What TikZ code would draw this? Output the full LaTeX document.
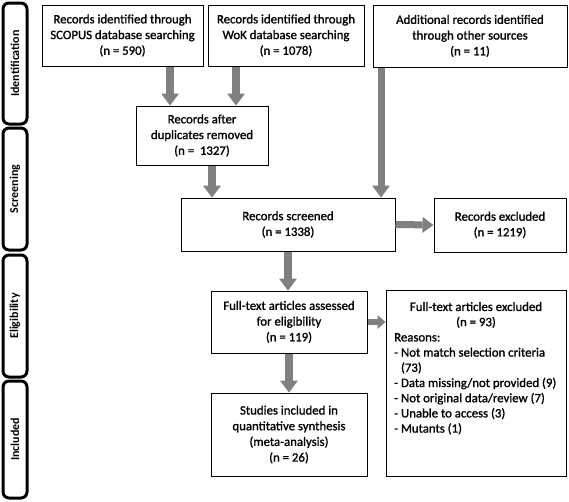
\documentclass[tikz,border=0pt]{standalone}
\usepackage{fontspec}
\setmainfont{Carlito}[UprightFeatures={FakeBold=1.2}]
\usetikzlibrary{arrows.meta}
\definecolor{arrowgray}{RGB}{128,128,128}
\begin{document}
\begin{tikzpicture}[x=1pt,y=-1pt,
  box/.style={draw=black, line width=1pt, fill=white, inner sep=0pt, align=center,
    font=\fontsize{12.8}{15.7}\selectfont},
  phase/.style={draw=black, line width=3pt, rounded corners=6pt, inner sep=0pt,
    minimum height=24pt, rotate=90, font=\bfseries\fontsize{12}{14}\selectfont},
  txt/.style={inner sep=0pt, font=\fontsize{12.8}{15.2}\selectfont},
  fat/.style={draw=arrowgray, line width=8pt, -{Triangle[width=18pt,length=12pt,line width=0pt]}},
  slim/.style={draw=arrowgray, line width=6pt, -{Triangle[width=14pt,length=8pt,line width=0pt]}}]
\useasboundingbox (0,0) rectangle (569,501);

% phase labels
\node[phase, minimum width=121pt] (pid) at (15,63.5) {Identification};
\node[phase, minimum width=122pt] (psc) at (15,189) {Screening};
\node[phase, minimum width=122pt] (pel) at (15,316) {Eligibility};
\node[phase, minimum width=117pt] (pin) at (15,439.5) {Included};

% boxes
\node[box, minimum width=161pt, minimum height=61pt] (scopus) at (122.5,35.5)
  {Records identified through\\SCOPUS database searching\\(n = 590)};
\node[box, minimum width=156pt, minimum height=61pt] (wok) at (286,35.5)
  {Records identified through\\WoK database searching\\(n = 1078)};
\node[box, minimum width=194pt, minimum height=62pt] (add) at (470,36)
  {Additional records identified\\through other sources\\(n = 11)};
\node[box, minimum width=132pt, minimum height=59pt] (dup) at (202,135.5)
  {Records after\\duplicates removed\\(n = \ 1327)};
\node[box, minimum width=214pt, minimum height=53pt] (scr) at (288,224.5)
  {Records screened\\(n = 1338)};
\node[box, minimum width=132pt, minimum height=54pt] (exc1) at (500,225)
  {Records excluded\\(n = 1219)};
\node[box, minimum width=156pt, minimum height=62pt] (full) at (289,322)
  {Full-text articles assessed\\for eligibility\\(n = 119)};
\node[box, minimum width=180pt, minimum height=186pt] (exc2) at (476,383) {};
\node[txt, align=center] (exc2head) at (476,315)
  {Full-text articles excluded\\(n = 93)};
\node[txt, align=left, anchor=north west] (exc2list) at (394,333)
  {Reasons:\\- Not match selection criteria\\\phantom{- }(73)\\- Data missing/not provided (9)\\- Not original data/review (7)\\- Unable to access (3)\\- Mutants (1)};
\node[box, minimum width=156pt, minimum height=83pt] (stud) at (289,434.5)
  {Studies included in\\quantitative synthesis\\(meta-analysis)\\(n = 26)};

% arrows
\draw[fat] ([xshift=47.5pt]scopus.south) -- ([xshift=47.5pt]scopus.south |- dup.north);
\draw[fat] ([xshift=-50pt]wok.south) -- ([xshift=-50pt]wok.south |- dup.north);
\draw[fat] ([xshift=10pt]dup.south) -- ([xshift=10pt]dup.south |- scr.north);
\draw[fat, line width=7pt] ([xshift=8.5pt]add.south west) -- ([xshift=8.5pt]add.south west |- scr.north);
\draw[fat, line width=7pt, -{Triangle[width=16pt,length=11pt,line width=0pt]}] (scr.east) -- (exc1.west);
\draw[fat] (scr.south) -- (scr.south |- full.north);
\draw[slim] (full.east) -- (full.east -| exc2.west);
\draw[fat] (full.south) -- (stud.north);
\end{tikzpicture}
\end{document}
